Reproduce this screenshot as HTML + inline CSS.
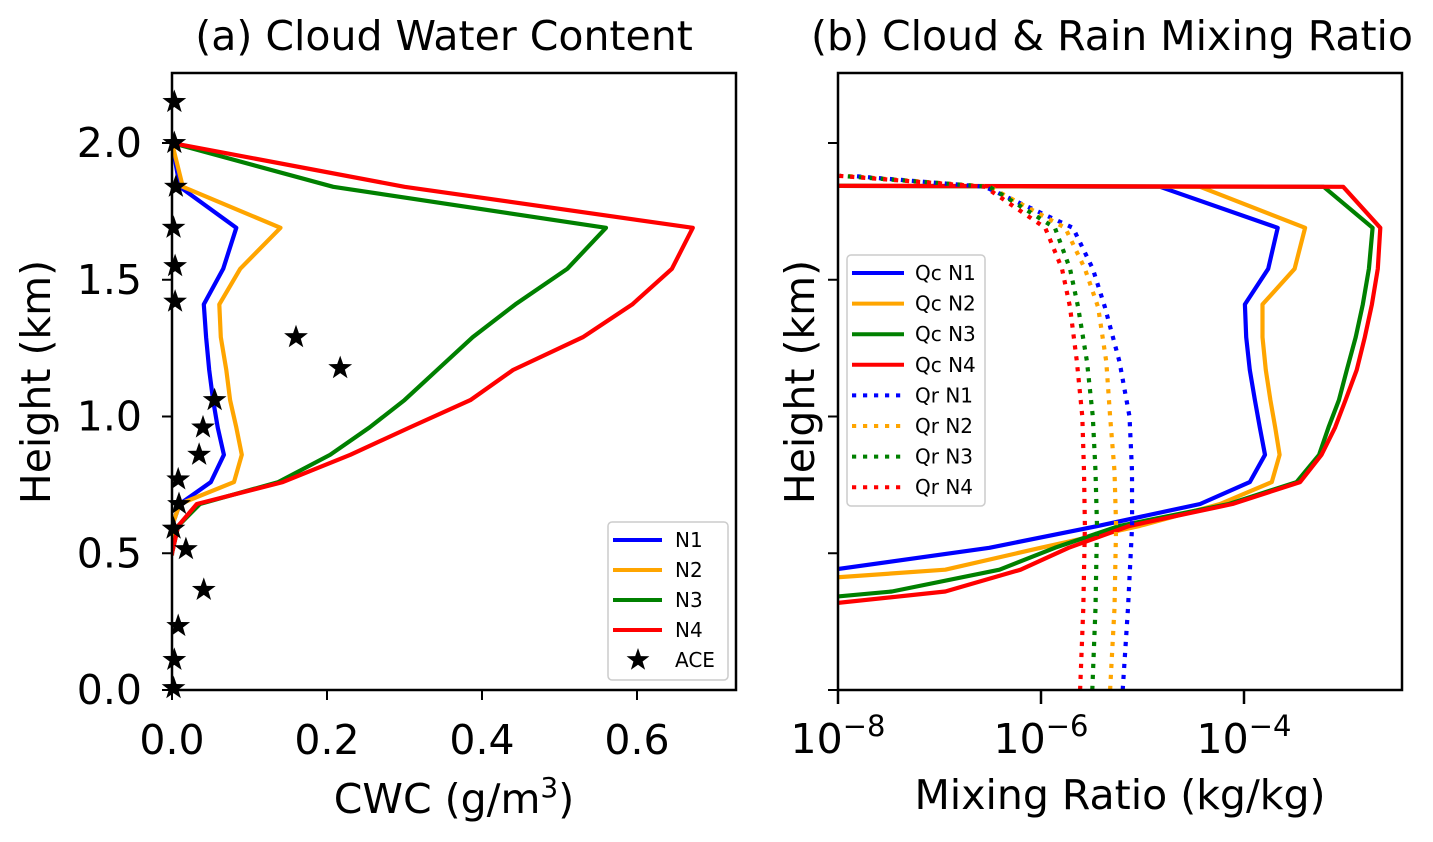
<!DOCTYPE html>
<html><head><meta charset="utf-8"><style>
body{margin:0;background:#fff;}
svg{display:block;font-family:"DejaVu Sans","Liberation Sans",sans-serif;}
</style></head><body>
<svg id="fig" width="1433" height="842" viewBox="0 0 1433 842" xmlns="http://www.w3.org/2000/svg">
<defs>
<clipPath id="clipA"><rect x="172" y="73" width="564" height="617"/></clipPath>
<clipPath id="clipB"><rect x="838" y="73" width="564" height="617"/></clipPath>
</defs>
<g id="gA"></g>
<g id="gB"></g>
</svg>
<script>
// ---- Panel (a) data ----
const heightsA = [0.50,0.60,0.68,0.76,0.86,0.96,1.06,1.17,1.29,1.41,1.54,1.69,1.84,2.0];
const cwcN1 = [0,0,0.010,0.050,0.067,0.059,0.053,0.048,0.044,0.041,0.066,0.083,0.010,0];
const cwcN2 = [0,0,0.010,0.080,0.090,0.083,0.075,0.070,0.063,0.061,0.088,0.140,0.014,0];
const cwcN3 = [0,0.008,0.036,0.137,0.204,0.255,0.300,0.342,0.388,0.443,0.510,0.560,0.208,0];
const cwcN4 = [0,0.008,0.032,0.143,0.230,0.307,0.385,0.440,0.530,0.594,0.645,0.672,0.300,0];
const aceHeights = [2.15,2.0,1.84,1.69,1.55,1.42,1.29,1.177,1.06,0.96,0.86,0.77,0.68,0.59,0.515,0.366,0.234,0.11,0.007];
const aceCwc = [0.003,0.003,0.005,0.002,0.004,0.004,0.160,0.217,0.055,0.040,0.035,0.008,0.009,0.002,0.018,0.041,0.008,0.003,0.002];
const xTicksA = [0.0,0.2,0.4,0.6];
const xTickLabelsA = ["0.0","0.2","0.4","0.6"];
const yTicks = [0.0,0.5,1.0,1.5,2.0];
const yTickLabels = ["0.0","0.5","1.0","1.5","2.0"];
// ---- Panel (b) data ----
const heightsQc = [0.24,0.36,0.44,0.52,0.60,0.68,0.76,0.86,0.96,1.06,1.17,1.29,1.41,1.54,1.69,1.84,1.845];
const qcN1 = [1e-11,1e-10,8.9e-9,3.1e-7,3.65e-6,3.69e-5,1.14e-4,1.61e-4,1.43e-4,1.28e-4,1.14e-4,1.05e-4,1.02e-4,1.73e-4,2.15e-4,1.49e-5,1e-10];
const qcN2 = [1e-11,1e-10,1.14e-7,9.9e-7,9.4e-6,5.8e-5,1.88e-4,2.24e-4,2.03e-4,1.82e-4,1.64e-4,1.52e-4,1.52e-4,3.15e-4,4.0e-4,3.69e-5,1e-10];
const qcN3 = [1e-11,3.4e-8,3.9e-7,1.37e-6,5.93e-6,7.1e-5,3.3e-4,5.5e-4,6.8e-4,8.6e-4,1.03e-3,1.26e-3,1.48e-3,1.70e-3,1.85e-3,6.1e-4,1e-10];
const qcN4 = [1e-10,1.14e-7,6.3e-7,1.87e-6,7.45e-6,7.7e-5,3.57e-4,5.8e-4,7.9e-4,1.0e-3,1.29e-3,1.55e-3,1.82e-3,2.08e-3,2.2e-3,9.5e-4,1e-10];
const heightsQr = [0,0.3,0.6,0.8,1.0,1.2,1.4,1.54,1.69,1.84,1.88];
const qrN1 = [6.38e-6,7.2e-6,7.9e-6,7.88e-6,7.45e-6,5.93e-6,4.26e-6,3.24e-6,2.06e-6,2.8e-7,1.34e-8];
const qrN2 = [4.79e-6,5.3e-6,5.5e-6,5.3e-6,4.79e-6,4.4e-6,3.65e-6,2.71e-6,1.73e-6,3.1e-7,1.17e-8];
const qrN3 = [3.2e-6,3.44e-6,3.56e-6,3.44e-6,3.24e-6,2.84e-6,2.32e-6,1.93e-6,1.37e-6,3.1e-7,1.04e-8];
const qrN4 = [2.43e-6,2.61e-6,2.71e-6,2.65e-6,2.55e-6,2.26e-6,1.93e-6,1.61e-6,1.10e-6,2.8e-7,1.0e-8];
const xTicksB = [-8,-6,-4];

const NS="http://www.w3.org/2000/svg";
function mk(tag,attrs,parent){const e=document.createElementNS(NS,tag);for(const k in attrs)e.setAttribute(k,attrs[k]);parent.appendChild(e);return e;}
const yScale = h => 690 - h*273.5;
const xA = v => 172 + v*775;
const xB = v => 838 + (Math.log10(v)+8)*101.5;
const FS = 41;

const gA=document.getElementById('gA'), gB=document.getElementById('gB');

function axesFrame(g,x0,name){
  const r=mk('rect',{x:x0,y:73,width:564,height:617,fill:'none',stroke:'#000','stroke-width':2.5},g);
  
  
}
function text(g,x,y,str,size,anchor,name){
  const t=mk('text',{x:x,y:y,'font-size':size,'text-anchor':anchor,fill:'#000'},g);
  t.textContent=str;
  
  
  return t;
}
function line(g,xs,hs,xf,color,dash,clip,name){
  const pts=xs.map((v,i)=>xf(v).toFixed(1)+','+yScale(hs[i]).toFixed(1)).join(' ');
  const attrs={points:pts,fill:'none',stroke:color,'stroke-width':4.2,'clip-path':'url(#'+clip+')','stroke-linejoin':'round'};
  if(dash){attrs['stroke-dasharray']=dash;attrs['stroke-linecap']='butt';}else attrs['stroke-linecap']='square';
  const p=mk('polyline',attrs,g);
  
  
}
function star(g,cx,cy,r,name){
  let pts=[];
  for(let i=0;i<10;i++){const rr=i%2?r*0.4:r;const a=-Math.PI/2+i*Math.PI/5;pts.push((cx+rr*Math.cos(a)).toFixed(1)+','+(cy+rr*Math.sin(a)).toFixed(1));}
  const p=mk('polygon',{points:pts.join(' '),fill:'#000'},g);
  
  
}

// ---- Panel A ----
line(gA,cwcN1,heightsA,xA,'#0000ff',null,'clipA','line-n1');
line(gA,cwcN2,heightsA,xA,'#ffa500',null,'clipA','line-n2');
line(gA,cwcN3,heightsA,xA,'#008000',null,'clipA','line-n3');
line(gA,cwcN4,heightsA,xA,'#ff0000',null,'clipA','line-n4');
aceCwc.forEach((v,i)=>star(gA,xA(v),yScale(aceHeights[i]),12.5,'ace-star'));
axesFrame(gA,172,'axes-a-frame');
xTicksA.forEach((v,i)=>{
  const l=mk('line',{x1:xA(v),x2:xA(v),y1:690,y2:700,stroke:'#000','stroke-width':2},gA);
  
  
  text(gA,xA(v),754,xTickLabelsA[i],FS,'middle','x-tick-label-a');
});
yTicks.forEach((v,i)=>{
  const l=mk('line',{x1:162,x2:172,y1:yScale(v),y2:yScale(v),stroke:'#000','stroke-width':2},gA);
  
  
  text(gA,142,yScale(v)+14,yTickLabels[i],FS,'end','y-tick-label-a');
});
text(gA,444,50,'(a) Cloud Water Content',FS,'middle','title-a');
const xlA=text(gA,454,813,'CWC (g/m',FS,'middle','x-axis-title-a');
const sup=mk('tspan',{dy:-16,'font-size':28},xlA);sup.textContent='3';
const cl=mk('tspan',{dy:16},xlA);cl.textContent=')';
const ylA=text(gA,0,0,'Height (km)',FS,'middle','y-axis-title-a');
ylA.setAttribute('transform','translate(50,382) rotate(-90)');
// legend A
const legA=mk('g',{},gA);


mk('rect',{x:608,y:522,width:120,height:158,rx:4,fill:'#fff',stroke:'#ccc','stroke-width':1.5},legA);
[['N1','#0000ff'],['N2','#ffa500'],['N3','#008000'],['N4','#ff0000']].forEach((e,i)=>{
  const y=540+i*30;
  const l=mk('line',{x1:613,x2:662,y1:y,y2:y,stroke:e[1],'stroke-width':4},legA);
  
  
  text(legA,675,y+7,e[0],20,'start','legend-label');
});
star(legA,638,660,12,'legend-ace-marker');
text(legA,675,667,'ACE',20,'start','legend-label');

// ---- Panel B ----
line(gB,qcN1,heightsQc,xB,'#0000ff',null,'clipB','line-qc-n1');
line(gB,qcN2,heightsQc,xB,'#ffa500',null,'clipB','line-qc-n2');
line(gB,qcN3,heightsQc,xB,'#008000',null,'clipB','line-qc-n3');
line(gB,qcN4,heightsQc,xB,'#ff0000',null,'clipB','line-qc-n4');
line(gB,qrN1,heightsQr,xB,'#0000ff','4.2,6.8','clipB','line-qr-n1');
line(gB,qrN2,heightsQr,xB,'#ffa500','4.2,6.8','clipB','line-qr-n2');
line(gB,qrN3,heightsQr,xB,'#008000','4.2,6.8','clipB','line-qr-n3');
line(gB,qrN4,heightsQr,xB,'#ff0000','4.2,6.8','clipB','line-qr-n4');
axesFrame(gB,838,'axes-b-frame');
xTicksB.forEach(e=>{
  const x=xB(Math.pow(10,e));
  const l=mk('line',{x1:x,x2:x,y1:690,y2:704,stroke:'#000','stroke-width':2.5},gB);
  
  
  const t=text(gB,x,753,'10',FS,'middle','x-tick-label-b');
  const s=mk('tspan',{dy:-17,'font-size':29},t);s.textContent='\u2212'+Math.abs(e);
});
yTicks.forEach(v=>{
  const l=mk('line',{x1:828,x2:838,y1:yScale(v),y2:yScale(v),stroke:'#000','stroke-width':2},gB);
  
  
});
text(gB,1112,50,'(b) Cloud & Rain Mixing Ratio',FS,'middle','title-b');
text(gB,1120,809,'Mixing Ratio (kg/kg)',FS,'middle','x-axis-title-b');
const ylB=text(gB,0,0,'Height (km)',FS,'middle','y-axis-title-b');
ylB.setAttribute('transform','translate(814,382) rotate(-90)');
const legB=mk('g',{},gB);


mk('rect',{x:847,y:255,width:138,height:251,rx:4,fill:'#fff',stroke:'#ccc','stroke-width':1.5},legB);
[['Qc N1','#0000ff',0],['Qc N2','#ffa500',0],['Qc N3','#008000',0],['Qc N4','#ff0000',0],['Qr N1','#0000ff',1],['Qr N2','#ffa500',1],['Qr N3','#008000',1],['Qr N4','#ff0000',1]].forEach((e,i)=>{
  const y=273+i*30.6;
  const at={x1:852,x2:904,y1:y,y2:y,stroke:e[1],'stroke-width':4};
  if(e[2])at['stroke-dasharray']='4.2,6.8';
  const l=mk('line',at,legB);
  
  
  text(legB,915,y+7,e[0],20,'start','legend-label');
});
</script>
</body></html>
